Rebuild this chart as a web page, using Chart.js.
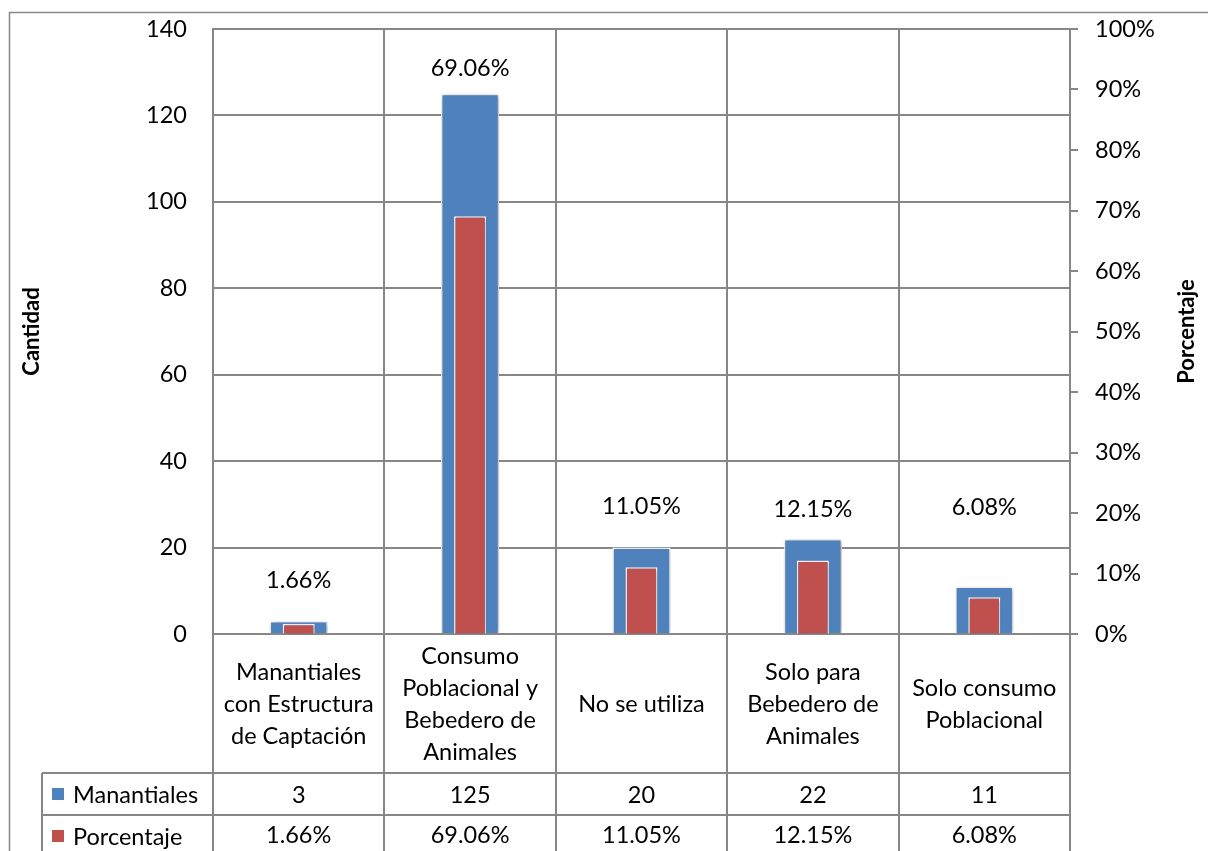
<!DOCTYPE html>
<html>
<head>
<meta charset="utf-8">
<script src="https://cdn.jsdelivr.net/npm/chart.js@4/dist/chart.umd.min.js"></script>
<style>
  html, body { margin: 0; padding: 0; background: #fff; }
  #wrap { width: 1208px; height: 851px; }
</style>
</head>
<body>
<div id="wrap"><canvas id="usos" width="1208" height="851"></canvas></div>
<script>
// categorías (ya partidas en líneas) y valores de cada serie
const categories = [
  ["Manantiales", "con Estructura", "de Captación"],
  ["Consumo", "Poblacional y", "Bebedero de", "Animales"],
  ["No se utiliza"],
  ["Solo para", "Bebedero de", "Animales"],
  ["Solo consumo", "Poblacional"]
];
const manantiales = [3, 125, 20, 22, 11];
const porcentaje = [1.66, 69.06, 11.05, 12.15, 6.08];
const cantidadMax = 140;
const cantidadStep = 20;
const porcentajeMax = 100;
const porcentajeStep = 10;

const FONT = "Lato, 'Open Sans', sans-serif";
const FS = 23.5;
const GRID = "#878787";
const BLUE = "#4F81BD";
const RED = "#C0504D";

const pct = (v) => v.toFixed(2) + "%";

// marco gris del gráfico
const framePlugin = {
  id: "frame",
  beforeDraw(chart) {
    const ctx = chart.ctx;
    ctx.save();
    ctx.strokeStyle = GRID;
    ctx.lineWidth = 1.5;
    ctx.strokeRect(9.5, 12.5, chart.width + 20, chart.height + 20);
    ctx.restore();
  }
};

// marcas cortas hacia fuera en el eje de porcentaje
const rightTicksPlugin = {
  id: "rightTicks",
  afterDraw(chart) {
    const ctx = chart.ctx;
    const s = chart.scales.y1;
    ctx.save();
    ctx.strokeStyle = GRID;
    ctx.lineWidth = 2;
    ctx.beginPath();
    s.ticks.forEach((t) => {
      const y = Math.round(s.getPixelForValue(t.value));
      ctx.moveTo(s.left, y);
      ctx.lineTo(s.left + 8, y);
    });
    ctx.stroke();
    ctx.restore();
  }
};

// sombra suave bajo las barras
const shadowPlugin = {
  id: "barShadow",
  beforeDatasetsDraw(chart) {
    const ctx = chart.ctx;
    ctx.save();
    ctx.shadowColor = "rgba(0,0,0,0.35)";
    ctx.shadowBlur = 5;
    ctx.shadowOffsetX = 1;
    ctx.shadowOffsetY = 1;
  },
  afterDatasetsDraw(chart) {
    chart.ctx.restore();
  }
};

// etiquetas de porcentaje sobre las barras azules
const labelPlugin = {
  id: "pctLabels",
  afterDatasetsDraw(chart, args, opts) {
    const ctx = chart.ctx;
    const bars = chart.getDatasetMeta(0).data;
    ctx.save();
    ctx.font = FS + "px " + FONT;
    ctx.fillStyle = "#000";
    ctx.textAlign = "center";
    ctx.textBaseline = "middle";
    bars.forEach((bar, i) => {
      ctx.fillText(pct(porcentaje[i]), bar.x, bar.y - opts.gaps[i]);
    });
    ctx.restore();
  }
};

// tabla de datos bajo el eje x
const tablePlugin = {
  id: "dataTable",
  afterDraw(chart) {
    const ctx = chart.ctx;
    const x = chart.scales.x;
    const area = chart.chartArea;
    const step = (area.right - area.left) / categories.length;
    const row1 = 773, row2 = 815, row3 = 857, tableLeft = 42;

    ctx.save();
    ctx.strokeStyle = GRID;
    ctx.lineWidth = 2;
    ctx.beginPath();
    [row1, row2, row3].forEach((y) => {
      ctx.moveTo(tableLeft, y);
      ctx.lineTo(area.right, y);
    });
    ctx.moveTo(tableLeft, row1);
    ctx.lineTo(tableLeft, chart.height);
    for (let i = 0; i <= categories.length; i++) {
      const lx = Math.round(area.left + i * step);
      ctx.moveTo(lx, area.bottom);
      ctx.lineTo(lx, chart.height);
    }
    ctx.stroke();

    ctx.fillStyle = "#000";
    ctx.font = FS + "px " + FONT;
    ctx.textAlign = "center";
    ctx.textBaseline = "middle";
    const lineH = 32;
    const mid = (area.bottom + row1) / 2 + 1;
    categories.forEach((lines, i) => {
      const cx = x.getPixelForValue(i);
      const y0 = mid - (lines.length - 1) * lineH / 2;
      lines.forEach((t, j) => ctx.fillText(t, cx, y0 + j * lineH));
      ctx.fillText(String(manantiales[i]), cx, (row1 + row2) / 2 + 1);
      ctx.fillText(pct(porcentaje[i]), cx, (row2 + row3) / 2 - 1);
    });

    // claves de la leyenda
    ctx.textAlign = "left";
    [["Manantiales", BLUE, (row1 + row2) / 2], ["Porcentaje", RED, (row2 + row3) / 2]].forEach(([name, color, cy]) => {
      ctx.fillStyle = color;
      ctx.fillRect(52, cy - 6, 12, 12);
      ctx.fillStyle = "#000";
      ctx.fillText(name, 73, cy + 1);
    });

    // títulos de los ejes
    ctx.font = "bold 22px " + FONT;
    ctx.textAlign = "center";
    const cy = (area.top + area.bottom) / 2;
    [["Cantidad", 32], ["Porcentaje", 1187]].forEach(([t, tx]) => {
      ctx.save();
      ctx.translate(tx, cy);
      ctx.rotate(-Math.PI / 2);
      ctx.fillText(t, 0, 0);
      ctx.restore();
    });
    ctx.restore();
  }
};

new Chart(document.getElementById("usos"), {
  type: "bar",
  data: {
    labels: categories,
    datasets: [
      {
        label: "Manantiales",
        data: manantiales,
        yAxisID: "y",
        backgroundColor: BLUE,
        borderColor: "#fff",
        borderWidth: 1.5,
        barPercentage: 0.34,
        categoryPercentage: 1,
        grouped: false,
        order: 2
      },
      {
        label: "Porcentaje",
        data: porcentaje,
        yAxisID: "y1",
        backgroundColor: RED,
        borderColor: "#fff",
        borderWidth: 1.5,
        barPercentage: 0.187,
        categoryPercentage: 1,
        grouped: false,
        order: 1
      }
    ]
  },
  options: {
    responsive: false,
    animation: false,
    devicePixelRatio: 1,
    layout: { padding: { top: 29, left: 0, right: 0, bottom: 0 } },
    plugins: {
      legend: { display: false },
      tooltip: { enabled: false },
      pctLabels: { gaps: [41, 25, 41, 30, 79] }
    },
    scales: {
      x: {
        offset: true,
        grid: { offset: true, color: GRID, lineWidth: 2, drawTicks: false },
        border: { display: false },
        ticks: { display: false },
        afterFit: (s) => { s.height = 217; }
      },
      y: {
        position: "left",
        min: 0,
        max: cantidadMax,
        grid: { color: GRID, lineWidth: 2, tickLength: 26, tickColor: "rgba(0,0,0,0)" },
        border: { color: GRID, width: 2 },
        ticks: { stepSize: cantidadStep, padding: 0, color: "#000", font: { family: FONT, size: FS } },
        afterFit: (s) => { s.width = 213; }
      },
      y1: {
        position: "right",
        min: 0,
        max: porcentajeMax,
        grid: { drawOnChartArea: false, tickLength: 25, tickColor: "rgba(0,0,0,0)" },
        border: { color: GRID, width: 2 },
        ticks: {
          stepSize: porcentajeStep,
          padding: 0,
          color: "#000",
          font: { family: FONT, size: FS },
          callback: (v) => v + "%"
        },
        afterFit: (s) => { s.width = 138; }
      }
    }
  },
  plugins: [framePlugin, shadowPlugin, labelPlugin, rightTicksPlugin, tablePlugin]
});
</script>
</body>
</html>
